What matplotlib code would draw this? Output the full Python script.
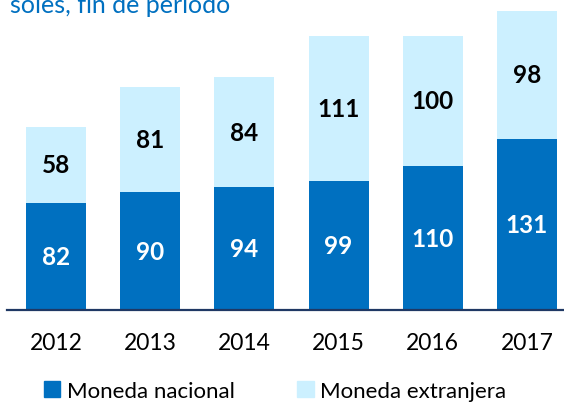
import matplotlib
matplotlib.use('Agg')
import matplotlib.pyplot as plt
import matplotlib.patches as mpatches
import numpy as np

years = ['2012', '2013', '2014', '2015', '2016', '2017']
nacional = [82, 90, 94, 99, 110, 131]
extranjera = [58, 81, 84, 111, 100, 98]

DARK = '#0070C0'
LIGHT = '#CCF0FF'
FONT = 'Lato'

plt.rcParams['font.family'] = [FONT, 'DejaVu Sans']

fig = plt.figure(figsize=(5.64, 4.06), dpi=100)
# axes from x=7px to right edge, baseline at y=311px, top at figure top
ax = fig.add_axes([7 / 564, (406 - 311) / 406, 557 / 564, 311 / 406])

x = np.arange(len(years))
w = 0.637
ax.bar(x, nacional, w, color=DARK, label='Moneda nacional')
ax.bar(x, extranjera, w, bottom=nacional, color=LIGHT, label='Moneda extranjera')

for i in range(len(years)):
    ax.text(x[i], nacional[i] / 2, str(nacional[i]), ha='center', va='center',
            color='white', fontsize=17.5, fontweight='bold')
    ax.text(x[i], nacional[i] + extranjera[i] / 2, str(extranjera[i]), ha='center',
            va='center', color='black', fontsize=17.5, fontweight='bold')

ax.set_xlim(-0.52, 5.393)
ax.set_ylim(0, 238)
ax.set_xticks(x)
ax.set_xticklabels(years, fontsize=16.5)
ax.tick_params(axis='x', length=0, pad=16)
ax.set_yticks([])
for s in ['top', 'right', 'left']:
    ax.spines[s].set_visible(False)
ax.spines['bottom'].set_color('#1F3864')
ax.spines['bottom'].set_linewidth(1.6)

fig.text(10 / 564, (406 - 13) / 406, 'soles, fin de periodo', color=DARK,
         fontsize=18, va='baseline', ha='left')

handles = [mpatches.Patch(color=DARK, label='Moneda nacional'),
           mpatches.Patch(color=LIGHT, label='Moneda extranjera')]
fig.legend(handles=handles, loc='center', bbox_to_anchor=(275 / 564, (406 - 392) / 406),
           ncol=2, frameon=False, fontsize=16, handlelength=0.75, handleheight=0.75,
           handletextpad=0.3, columnspacing=2.8, borderaxespad=0)

fig.savefig('out.png', dpi=100)
